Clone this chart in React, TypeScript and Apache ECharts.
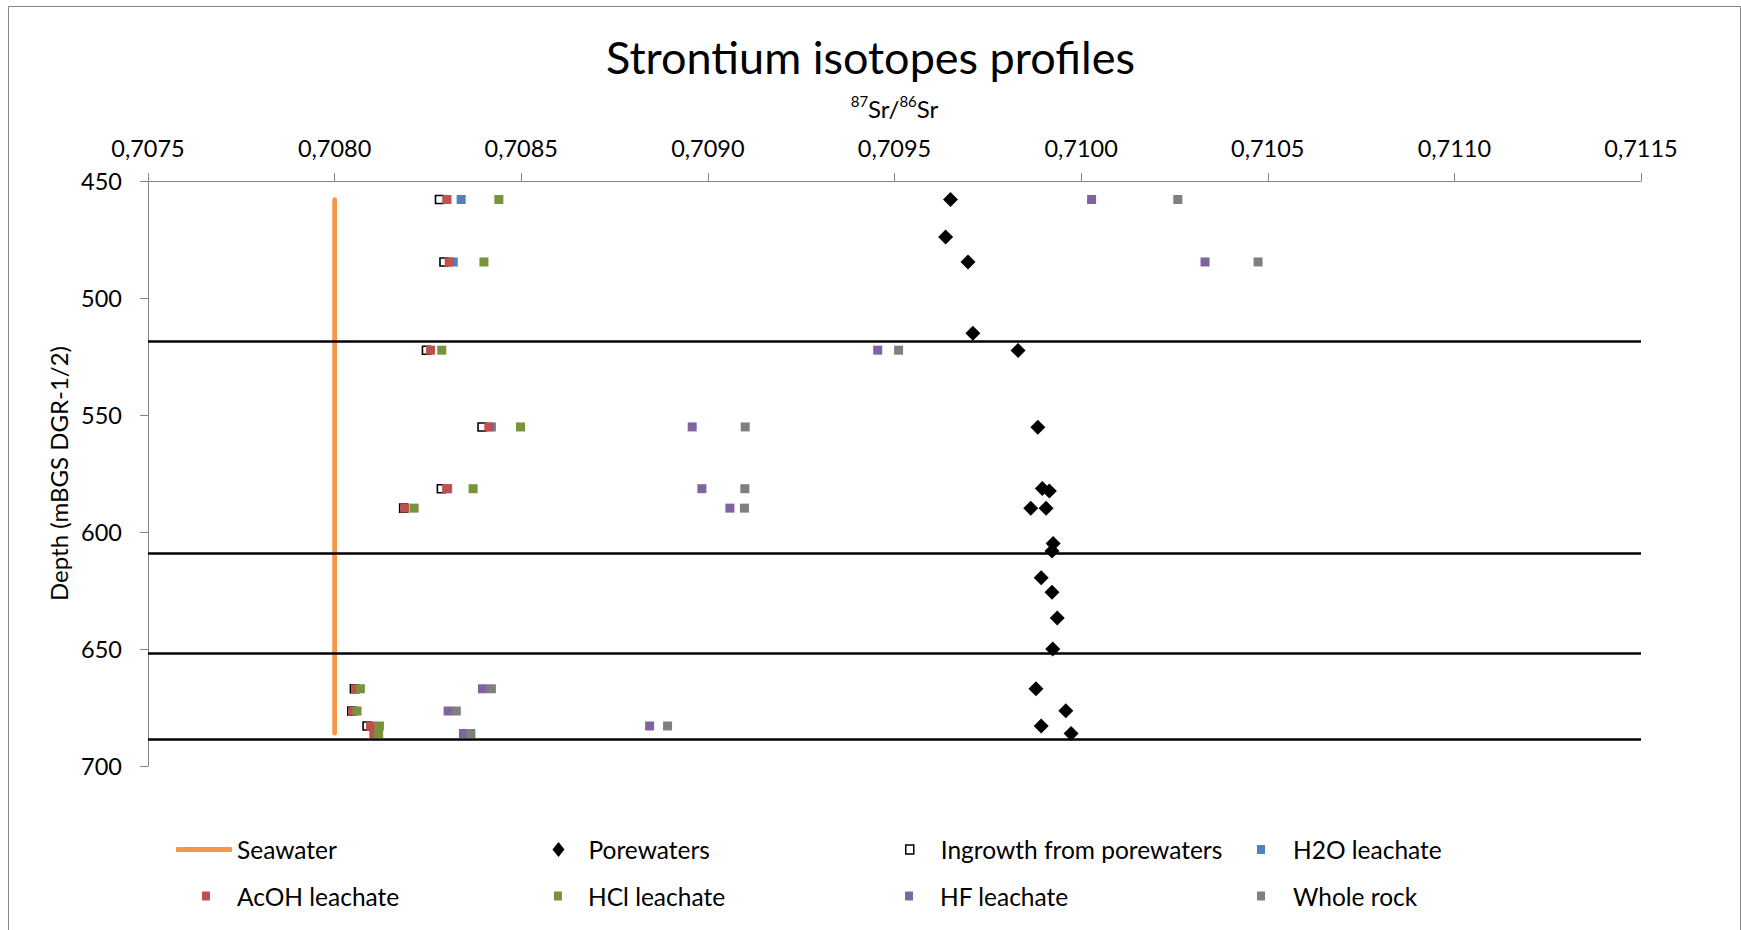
import React, { useEffect, useRef } from "react";
import * as echarts from "echarts";

// ---------- data ----------
const X_MIN = 0.7075;
const X_MAX = 0.7115;
const X_STEP = 0.0005;
const Y_MIN = 450;
const Y_MAX = 700;
const Y_STEP = 50;

const TITLE = "Strontium isotopes profiles";
const Y_NAME = "Depth (mBGS DGR-1/2)";

const SEAWATER_DEPTH = [458, 686];
const SEAWATER_SR = [0.708, 0.708];

const POREWATER_DEPTH = [
  457.9, 473.9, 484.6, 515.1, 522.4, 555.2, 581.4, 582.5, 589.8, 589.9,
  604.9, 608.1, 619.6, 625.8, 636.8, 650.0, 667.0, 676.4, 682.9, 686.1,
];
const POREWATER_SR = [
  0.70965, 0.709637, 0.709697, 0.70971, 0.709831, 0.709884, 0.709896, 0.709915, 0.709865, 0.709906,
  0.709925, 0.709922, 0.709893, 0.709922, 0.709936, 0.709924, 0.709879, 0.709959, 0.709893, 0.709973,
];

const INGROWTH_DEPTH = [457.9, 484.6, 522.3, 555.1, 581.5, 589.8, 667.0, 676.5, 682.9];
const INGROWTH_SR = [0.708281, 0.708293, 0.708246, 0.708395, 0.708286, 0.708185, 0.708053, 0.708046, 0.708087];

const H2O_DEPTH = [457.9, 484.6, 555.1, 581.5];
const H2O_SR = [0.708339, 0.708318, 0.70842, 0.708303];

const ACOH_DEPTH = [457.9, 484.6, 522.3, 555.1, 581.5, 589.8, 667.0, 676.5, 682.9, 686.1];
const ACOH_SR = [0.708301, 0.708307, 0.708257, 0.708413, 0.7083, 0.708188, 0.708056, 0.708049, 0.708096, 0.708105];

const HCL_DEPTH = [457.9, 484.6, 522.3, 555.1, 581.5, 589.8, 667.0, 676.5, 682.9, 686.1];
const HCL_SR = [0.70844, 0.7084, 0.708287, 0.708498, 0.708371, 0.708213, 0.708069, 0.70806, 0.70812, 0.708118];

const HF_DEPTH = [457.9, 484.6, 522.3, 555.1, 581.5, 589.8, 667.0, 676.5, 682.9, 686.1];
const HF_SR = [0.710028, 0.710332, 0.709455, 0.708958, 0.708984, 0.709059, 0.708396, 0.708304, 0.708844, 0.708345];

const WR_DEPTH = [457.9, 484.6, 522.3, 555.1, 581.5, 589.8, 667.0, 676.5, 682.9, 686.1];
const WR_SR = [0.710259, 0.710474, 0.709511, 0.7091, 0.709099, 0.709098, 0.70842, 0.708326, 0.708892, 0.708365];

const BOUNDARY_DEPTHS = [518.3, 609.2, 651.9, 688.5];

const SERIES_NAMES = [
  "Seawater",
  "Porewaters",
  "Ingrowth from porewaters",
  "H2O leachate",
  "AcOH leachate",
  "HCl leachate",
  "HF leachate",
  "Whole rock",
];

// ---------- styles ----------
const FONT = "Lato, 'Open Sans', sans-serif";
const AXIS_GRAY = "#868686";
const COLORS = {
  seawater: "#F79646",
  pore: "#000000",
  h2o: "#4F81BD",
  acoh: "#C0504D",
  hcl: "#77933C",
  hf: "#8064A2",
  wr: "#7F7F7F",
};

const pts = (xs: number[], ys: number[]) => xs.map((x, i) => [x, ys[i]]);

export default function App() {
  const ref = useRef<HTMLDivElement>(null);

  useEffect(() => {
    document.body.style.margin = "0";
    if (!ref.current) return;
    const chart = echarts.init(ref.current, undefined, { renderer: "svg" });

    const sq = (name: string, color: string, xs: number[], ys: number[]) => ({
      name,
      type: "scatter",
      symbol: "rect",
      symbolSize: 9,
      itemStyle: { color, opacity: 1 },
      data: pts(xs, ys),
    });

    // legend layout: [name, iconLeft, top, itemWidth, itemHeight, icon, textPad]
    const legendLayout: any[] = [
      ["Seawater", 176, 834.5, 56, 5, "roundRect", 0],
      ["Porewaters", 552.5, 834.5, 12, 15, "diamond", 19],
      ["Ingrowth from porewaters", 905, 834.5, 8, 9, "rect", 22],
      ["H2O leachate", 1257, 834.5, 8, 9, "rect", 23],
      ["AcOH leachate", 202, 881, 8, 9, "rect", 22],
      ["HCl leachate", 554, 881, 8, 9, "rect", 21],
      ["HF leachate", 905, 881, 8, 9, "rect", 22],
      ["Whole rock", 1257, 881, 8, 9, "rect", 23],
    ];

    const legends = legendLayout.map(([name, left, top, w, h, icon, pad]) => ({
      show: true,
      left,
      top,
      padding: 0,
      itemWidth: w,
      itemHeight: h,
      selectedMode: false,
      data: [
        name === "Ingrowth from porewaters"
          ? { name, icon, itemStyle: { color: "#fff", borderColor: "#000", borderWidth: 1.5 } }
          : { name, icon },
      ],
      textStyle: {
        fontFamily: FONT,
        fontSize: 24.5,
        color: "#000",
        lineHeight: 30,
        padding: [0, 0, 0, pad],
      },
    }));

    const option: any = {
      animation: false,
      backgroundColor: "#fff",
      title: {
        text: TITLE,
        left: "center",
        top: 31,
        padding: 0,
        textStyle: { fontFamily: FONT, fontSize: 45, fontWeight: "normal", color: "#000", lineHeight: 52 },
      },
      graphic: [
        {
          type: "rect",
          shape: { x: 8.5, y: 6.5, width: 1732, height: 960 },
          style: { fill: "none", stroke: AXIS_GRAY, lineWidth: 1 },
          silent: true,
        },
      ],
      legend: legends,
      grid: { left: 148, right: 100, top: 181, bottom: 164 },
      xAxis: {
        type: "value",
        position: "top",
        min: X_MIN,
        max: X_MAX,
        interval: X_STEP,
        name: "{sup|87}{base|Sr/}{sup|86}{base|Sr}",
        nameLocation: "middle",
        nameGap: 58,
        nameTextStyle: {
          rich: {
            sup: { fontFamily: FONT, fontSize: 15, color: "#000", lineHeight: 15, verticalAlign: "top" },
            base: { fontFamily: FONT, fontSize: 24, color: "#000", lineHeight: 30 },
          },
        },
        axisLine: { show: true, lineStyle: { color: AXIS_GRAY, width: 1 } },
        axisTick: { show: true, inside: false, length: 8, lineStyle: { color: AXIS_GRAY } },
        axisLabel: {
          margin: 21,
          fontFamily: FONT,
          fontSize: 23.5,
          color: "#000",
          formatter: (v: number) => v.toFixed(4).replace(".", ","),
        },
        splitLine: { show: false },
      },
      yAxis: {
        type: "value",
        inverse: true,
        min: Y_MIN,
        max: Y_MAX,
        interval: Y_STEP,
        name: Y_NAME,
        nameLocation: "middle",
        nameGap: 74,
        nameRotate: 90,
        nameTextStyle: { fontFamily: FONT, fontSize: 24, color: "#000" },
        axisLine: { show: true, lineStyle: { color: AXIS_GRAY, width: 1 } },
        axisTick: { show: true, inside: false, length: 8, lineStyle: { color: AXIS_GRAY } },
        axisLabel: { margin: 26, fontFamily: FONT, fontSize: 23.5, color: "#000" },
        splitLine: { show: false },
      },
      series: [
        {
          name: SERIES_NAMES[0],
          type: "line",
          symbol: "none",
          color: COLORS.seawater,
          itemStyle: { color: COLORS.seawater },
          lineStyle: { color: COLORS.seawater, width: 4.7, cap: "round" },
          data: pts(SEAWATER_SR, SEAWATER_DEPTH),
          markLine: {
            silent: true,
            symbol: ["none", "none"],
            label: { show: false },
            lineStyle: { color: "#000", width: 2.5, type: "solid" },
            data: BOUNDARY_DEPTHS.map((d) => ({ yAxis: d })),
          },
        },
        {
          name: SERIES_NAMES[1],
          type: "scatter",
          symbol: "diamond",
          symbolSize: 15,
          itemStyle: { color: COLORS.pore, opacity: 1 },
          data: pts(POREWATER_SR, POREWATER_DEPTH),
        },
        {
          name: SERIES_NAMES[2],
          type: "scatter",
          symbol: "rect",
          symbolSize: 8,
          itemStyle: { color: "#fff", borderColor: "#000", borderWidth: 1.6, opacity: 1 },
          data: pts(INGROWTH_SR, INGROWTH_DEPTH),
        },
        sq(SERIES_NAMES[3], COLORS.h2o, H2O_SR, H2O_DEPTH),
        sq(SERIES_NAMES[4], COLORS.acoh, ACOH_SR, ACOH_DEPTH),
        sq(SERIES_NAMES[5], COLORS.hcl, HCL_SR, HCL_DEPTH),
        sq(SERIES_NAMES[6], COLORS.hf, HF_SR, HF_DEPTH),
        sq(SERIES_NAMES[7], COLORS.wr, WR_SR, WR_DEPTH),
      ],
    };

    chart.setOption(option);
    return () => chart.dispose();
  }, []);

  return <div ref={ref} style={{ width: 1741, height: 930 }} />;
}
